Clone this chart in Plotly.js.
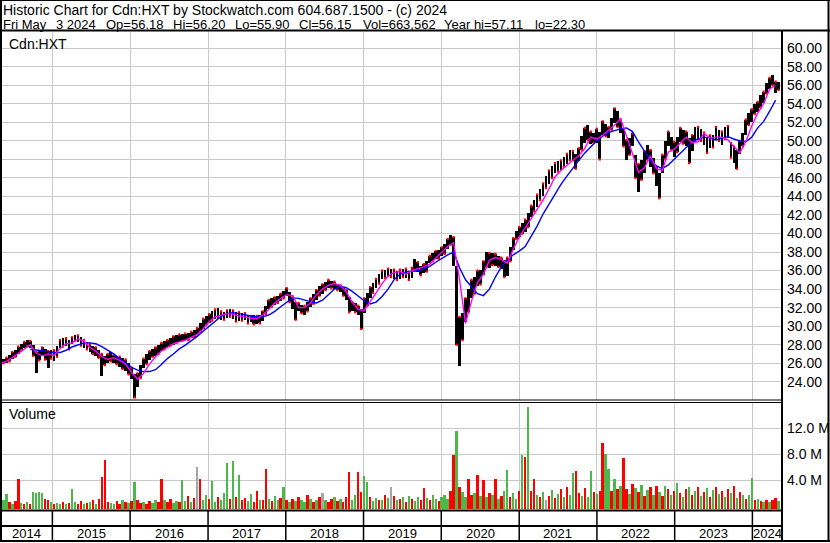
<!DOCTYPE html>
<html><head><meta charset="utf-8">
<script src="https://cdn.plot.ly/plotly-3.0.1.min.js"></script>
<style>html,body{margin:0;padding:0;background:#fff}#chart{width:830px;height:543px}</style>
</head><body><div id="chart"></div>
<script>
// ---------- data ----------
const SERIES_START = '2014-05-02';   // first sample, samples every 14 days
const SAMPLE_DAYS = 14;
const HIGH = [
26.4,26.5,26.6,26.9,27.2,27.4,27.8,28.1,28.3,28.5,
28.4,28.0,27.2,27.4,27.7,27.5,27.3,27.4,27.4,27.9,
28.5,28.7,28.7,28.5,28.8,29.1,29.0,28.8,28.5,28.3,
28.1,27.9,27.7,27.4,27.0,26.8,27.0,27.2,26.9,26.8,
26.7,26.6,26.4,26.0,25.5,24.8,24.9,25.8,26.5,27.0,
27.3,27.5,27.7,28.0,28.2,28.4,28.5,28.7,28.9,29.0,
29.1,29.2,29.2,29.3,29.4,29.6,29.8,30.3,30.8,31.1,
31.3,31.6,31.8,32.0,31.6,31.5,31.7,31.8,31.7,31.5,
31.5,31.4,31.4,31.2,31.1,31.2,31.1,31.2,31.6,32.2,
32.8,33.0,33.1,33.3,33.5,33.8,34.1,33.7,33.2,32.6,
32.5,32.3,32.2,32.6,33.0,33.5,33.9,34.3,34.5,34.8,
35.0,34.9,34.8,34.6,34.4,34.2,33.9,33.2,32.6,32.5,
32.2,31.9,33.0,33.6,34.2,34.7,35.1,35.6,36.0,36.1,
36.2,36.2,36.1,36.0,36.1,36.2,36.2,36.0,36.3,37.3,
36.9,36.5,36.7,37.0,37.6,37.9,38.1,38.2,38.5,38.9,
39.4,39.8,39.6,36.5,31.0,31.4,33.0,34.0,35.0,35.3,
36.0,36.1,37.0,38.0,37.9,37.9,37.8,37.6,37.4,37.1,
37.4,38.5,39.5,40.3,40.7,41.1,41.5,42.2,43.0,43.6,
44.2,44.8,45.4,46.2,46.8,47.3,47.6,47.8,47.9,48.3,
48.6,49.0,48.9,48.6,49.2,50.5,51.4,51.7,51.0,50.9,
51.3,51.0,52.1,51.8,51.5,52.5,53.5,53.2,52.3,51.3,
50.1,50.3,50.8,48.5,47.5,47.9,48.9,49.6,49.0,48.2,
47.2,46.5,48.5,50.0,51.0,50.4,49.9,50.4,51.4,51.2,
51.0,50.3,50.6,51.5,51.5,51.3,50.9,50.3,50.6,50.6,
51.5,51.2,51.0,51.5,51.6,49.9,49.4,49.0,50.0,50.8,
52.3,53.0,53.4,54.0,54.2,54.9,55.3,56.2,56.8,57.1,
56.4,56.3];
const LOW = [
25.9,26.0,26.0,26.2,26.5,26.7,27.0,27.4,27.6,27.8,
27.6,26.8,24.9,26.3,26.8,26.4,25.5,26.5,26.2,26.7,
27.6,27.8,27.9,27.5,28.1,28.4,28.3,27.9,27.6,27.5,
27.2,27.0,26.8,26.6,24.6,25.8,26.0,26.2,26.0,25.9,
25.6,25.4,25.2,24.8,24.3,22.3,23.4,24.4,25.5,25.9,
26.3,26.7,26.8,27.0,27.3,27.5,27.7,27.9,28.0,28.2,
28.3,28.4,28.5,28.5,28.7,28.8,29.0,29.4,29.7,30.1,
30.3,30.6,30.8,30.9,30.7,30.7,30.9,31.0,30.8,30.5,
30.6,30.6,30.7,30.3,30.4,30.2,30.2,30.3,30.6,31.3,
31.9,32.1,32.3,32.5,32.7,33.0,33.3,32.6,31.9,30.7,
31.6,31.4,31.2,31.6,32.1,32.4,32.8,33.3,33.5,33.9,
34.1,34.1,34.0,33.9,33.7,33.3,32.8,31.5,31.6,31.5,
31.2,29.7,31.4,32.2,33.0,33.6,34.1,34.6,35.1,35.2,
35.3,35.3,35.1,35.0,35.1,35.3,35.2,35.0,35.2,36.0,
35.8,35.5,35.7,35.9,36.8,37.0,37.2,37.3,37.6,37.8,
38.3,38.8,36.5,28.0,25.7,28.5,30.5,31.5,33.0,33.5,
34.3,34.5,35.5,36.4,36.3,36.6,36.5,36.4,36.2,35.3,
35.4,37.0,38.2,39.4,39.6,40.0,40.2,40.7,41.8,42.4,
42.9,43.6,44.0,44.9,45.3,46.0,46.5,46.7,46.9,47.2,
47.5,47.9,47.8,47.0,47.8,49.0,49.8,50.1,49.7,49.8,
49.8,48.0,50.6,50.5,50.3,51.2,51.9,51.5,50.8,49.4,
47.9,48.5,49.4,46.0,44.5,45.8,46.5,47.9,47.2,46.5,
45.1,43.8,46.5,48.0,49.4,49.0,48.3,48.8,49.9,49.7,
49.4,47.6,48.9,49.9,50.1,50.0,49.6,48.7,49.2,49.3,
50.1,50.0,49.6,50.2,50.3,48.2,47.6,47.0,48.6,49.4,
50.6,51.7,52.0,52.9,53.1,53.6,54.1,55.1,55.6,56.0,
55.2,55.5];
// moving averages, one value every 28 days from SERIES_START
const MA_DAYS = 28;
const MA_SHORT = [
26.0,26.2,26.6,27.1,27.6,28.0,27.1,26.8,27.0,26.8,
27.6,28.1,28.2,28.6,28.4,27.7,27.3,26.7,26.4,26.6,
26.3,25.9,25.0,24.3,24.9,25.9,26.7,27.3,27.7,28.1,
28.3,28.5,28.8,29.1,29.7,30.5,31.0,31.2,31.35,31.3,
31.1,31.0,30.85,30.8,31.2,31.8,32.5,33.0,33.4,33.3,
32.0,32.0,32.5,33.4,34.0,34.4,34.6,34.4,33.7,32.6,
31.8,31.7,32.6,33.6,34.6,35.4,35.8,35.9,35.6,36.0,
36.2,36.4,36.7,37.3,38.0,38.6,39.0,35.0,30.3,32.7,
34.7,35.6,37.1,37.4,37.2,36.8,38.3,39.6,40.6,41.6,
42.6,43.6,44.8,46.1,46.8,47.4,47.9,48.4,49.2,50.4,
50.2,50.6,51.1,51.7,52.4,50.6,48.6,46.6,47.1,48.4,
47.0,46.8,48.8,49.1,49.7,50.4,49.8,49.9,50.8,50.3,
50.4,50.4,50.1,49.4,48.7,49.9,51.6,53.0,54.0,55.6,
56.0];
const MA_LONG = [
null,null,null,null,null,27.5,27.45,27.35,27.25,27.15,
27.15,27.4,27.75,28.0,28.2,28.2,28.1,27.8,27.4,27.0,
26.5,26.0,25.55,25.25,25.1,25.1,25.3,25.85,26.5,27.0,
27.55,27.95,28.4,28.9,29.45,30.0,30.55,31.05,31.35,31.45,
31.35,31.2,31.1,31.0,31.0,31.2,31.6,32.1,32.6,33.05,
33.0,32.8,32.65,32.5,32.8,33.4,34.0,34.3,34.15,33.75,
33.2,32.75,32.4,32.6,33.2,34.0,35.0,35.6,35.85,35.9,
36.0,36.15,36.45,36.9,37.3,37.7,38.0,36.3,35.0,34.3,
33.5,33.3,34.0,35.3,36.4,37.1,37.7,38.1,38.6,39.7,
40.8,42.1,43.2,44.3,45.3,46.2,47.1,47.9,48.7,49.4,
50.0,50.5,50.9,51.1,51.3,51.4,51.0,49.9,48.9,47.9,
47.3,47.0,47.4,48.0,48.7,49.3,49.9,50.2,50.4,50.3,
50.1,50.3,50.45,50.2,50.0,49.9,50.4,51.4,52.1,53.2,
54.4];
// volume in millions per 14-day sample, and its colour code (r=down, g=up, x=unchanged)
const VOLUME_M = [
1.3,1.0,1.9,0.6,0.4,0.8,4.2,0.5,0.3,0.6,
0.4,2.2,2.1,2.2,2.0,1.1,0.9,0.6,0.3,0.5,
0.4,0.7,0.3,0.5,2.7,0.6,0.4,0.8,0.3,0.5,
0.6,1.0,0.4,1.1,4.5,7.1,0.7,0.5,0.3,0.8,
0.4,0.9,0.6,0.5,0.8,3.8,0.9,0.5,0.6,0.4,
0.8,0.5,0.9,0.6,4.2,0.9,0.7,1.1,0.5,0.8,
0.6,4.0,0.8,1.6,0.7,1.3,6.0,4.2,0.9,1.8,
1.2,3.9,0.6,1.4,0.9,2.0,6.7,1.1,7.0,1.4,
4.8,1.0,1.3,0.8,1.9,0.7,2.3,1.0,0.9,5.7,
1.1,0.8,1.6,0.9,1.3,3.0,1.0,0.6,1.2,0.8,
1.4,0.9,0.7,1.7,1.2,0.6,1.0,1.5,2.0,0.9,
0.7,1.2,1.4,0.8,1.1,0.6,1.5,5.3,1.0,1.8,
5.3,2.2,4.7,3.7,1.5,0.8,1.3,1.0,0.9,1.8,
1.3,2.9,1.6,0.9,1.1,1.4,0.7,1.6,1.2,0.8,
1.5,1.0,2.8,1.3,0.9,1.7,1.2,0.8,1.4,1.8,
1.2,2.4,7.9,11.6,3.0,2.2,1.5,4.2,1.8,2.1,
4.8,1.6,4.0,1.4,2.0,1.8,4.2,1.2,1.6,2.3,
5.6,1.5,2.0,1.1,2.3,7.9,7.6,15.3,2.4,4.2,
1.8,1.4,2.2,1.0,1.6,2.5,1.3,1.9,2.6,1.5,
2.9,1.8,5.2,5.4,2.0,1.6,2.8,1.4,5.4,2.2,
1.9,2.4,9.7,8.0,5.7,2.3,4.2,2.7,3.1,7.4,
2.6,1.9,3.4,2.8,2.2,3.3,1.6,2.5,2.9,1.8,
3.2,2.2,1.6,3.1,2.7,1.8,2.4,3.6,2.0,1.5,
2.6,3.0,1.7,2.3,2.9,1.6,2.2,2.8,1.4,2.5,
3.0,1.9,2.4,1.5,2.6,2.0,3.1,1.3,2.2,1.7,
1.2,1.8,4.3,0.9,1.1,0.8,0.6,1.0,0.7,0.9,
1.3,0.8];
const VOLUME_DIR =
"rggrgrrgrg"+"rggggrrgrg"+"grgrggrrgr"+"grgrrrrggr"+"rgrgrgrrgr"+
"rggrrgrrgg"+"rggrgrxrgg"+"rggrgggrgr"+"grrggrrgrr"+"grggrgrgrg"+
"rggrgrgrxg"+"rrgrgrrrgg"+"rrggrggrgr"+"gxrgrgrgrg"+"grrgrggrgg"+
"grrgrggrrg"+"rgrgrgrgrg"+"grggrgrgrr"+"grgxrgrgrg"+"rggrrgrggr"+
"grrggrgrgr"+"rgrgrgrgrg"+"rgrgrgrgrg"+"rgrgrgrgrg"+"rgrgrgrgrg"+
"rggrgrgrgr"+"rg";
const PRICE_TICKS = [24,26,28,30,32,34,36,38,40,42,44,46,48,50,52,54,56,58,60];
const VOL_TICKS_M = [4,8,12];
const YEARS = [2014,2015,2016,2017,2018,2019,2020,2021,2022,2023,2024];
const HEADER_1 = "Historic Chart for Cdn:HXT by Stockwatch.com 604.687.1500 - (c) 2024";
// second header line: its fields, shown with wide gaps between them
const HEADER_2 = ["Fri May", "3 2024", "Op=56.18", "Hi=56.20", "Lo=55.90", "Cl=56.15",
                  "Vol=663,562", "Year hi=57.11", "lo=22.30"];
const HEADER_2_X = [2, 55, 105, 172, 234, 298, 362, 443, 534];   // left pixel of each field
const SYMBOL = "Cdn:HXT";

// ---------- build ----------
const DAY = 86400000;
const t0 = Date.parse(SERIES_START + 'T00:00:00Z');
const iso = ms => new Date(ms).toISOString().slice(0, 10);
const dates = HIGH.map((_, i) => iso(t0 + i * SAMPLE_DAYS * DAY));
const maDates = MA_SHORT.map((_, k) => iso(t0 + k * MA_DAYS * DAY));

const W = 830, H = 543;
const PX = x => x / W, PY = y => 1 - y / H;
const X_RANGE = ['2014-04-30', '2024-05-19'];
const FONT = 'Liberation Sans, Arial, sans-serif';
const GRID = '#c8c8c8';
const VOL_BASE = -0.46e6;
const COLORS = {r: '#ff0000', g: '#4cb84c', x: '#a6a6a6'};

const traces = [
  {type: 'bar', x: dates, y: HIGH.map((h, i) => h - LOW[i]), base: LOW,
   width: SAMPLE_DAYS * DAY * 0.92, marker: {color: '#000', line: {width: 0}},
   xaxis: 'x', yaxis: 'y', hoverinfo: 'skip'},
  // red close ticks at the bar ends
  {type: 'scatter', mode: 'markers', x: dates,
   y: HIGH.map((h, i) => (i % 2 ? LOW[i] : h)),
   marker: {symbol: 'square', size: 2.3, color: '#ff0000', line: {width: 0}},
   xaxis: 'x', yaxis: 'y', hoverinfo: 'skip'},
  {type: 'scatter', mode: 'lines', x: maDates, y: MA_LONG, line: {color: '#0000ff', width: 1.4},
   xaxis: 'x', yaxis: 'y', hoverinfo: 'skip', connectgaps: false},
  {type: 'scatter', mode: 'lines', x: maDates, y: MA_SHORT, line: {color: '#ff00ff', width: 1.4},
   xaxis: 'x', yaxis: 'y', hoverinfo: 'skip'},
  {type: 'bar', x: dates, y: VOLUME_M.map(v => v * 1e6 - VOL_BASE), base: VOL_BASE,
   width: SAMPLE_DAYS * DAY * 0.8,
   marker: {color: VOLUME_M.map((_, i) => COLORS[VOLUME_DIR[i]]), line: {width: 0}},
   xaxis: 'x2', yaxis: 'y2', hoverinfo: 'skip'}
];

const yearStarts = YEARS.slice(1).map(y => y + '-01-01');
const xCommon = {type: 'date', range: X_RANGE, domain: [0, PX(782)], tickvals: yearStarts,
  showticklabels: false, ticks: '', showgrid: true, gridcolor: GRID, gridwidth: 1,
  zeroline: false, showline: false};

const shapes = [];
const line = (x0, y0, x1, y1, w) => shapes.push({type: 'line', xref: 'paper', yref: 'paper',
  x0: PX(x0), y0: PY(y0), x1: PX(x1), y1: PY(y1), line: {color: '#000', width: w}});
line(1, 0, 1, 542, 2);        // left border
line(0, 0.5, 830, 0.5, 1);    // top border
line(828.5, 0, 828.5, 542, 2);// right border
line(0, 541, 830, 541, 2);    // bottom border
line(0, 30.5, 830, 30.5, 2);  // header bottom
line(0, 400, 782, 400, 1.2);  // double line between panels
line(0, 402.5, 782, 402.5, 1.2);
line(0, 510.5, 782, 510.5, 2);// volume bottom
line(0, 526, 782, 526, 2);    // row separator
line(782, 31, 782, 541, 2);   // axis column
yearStarts.forEach(d => shapes.push({type: 'line', xref: 'x', yref: 'paper', x0: d, x1: d,
  y0: PY(511), y1: PY(541), line: {color: '#000', width: 1.5}}));

const txt = (text, x, y, size) => ({text: text, x: PX(x), y: PY(y), xref: 'paper', yref: 'paper',
  xanchor: 'left', yanchor: 'top', showarrow: false, borderpad: 0,
  font: {family: FONT, size: size, color: '#000'}});
const annotations = [txt(HEADER_1, 2, 0.5, 14)];
HEADER_2.forEach((s, i) => annotations.push(txt(s, HEADER_2_X[i], 16, 13)));
annotations.push(txt(SYMBOL, 8, 35, 14));
annotations.push(txt('Volume', 8, 405, 14));
const r0 = Date.parse(X_RANGE[0] + 'T00:00:00Z'), r1 = Date.parse(X_RANGE[1] + 'T00:00:00Z');
YEARS.forEach(y => {
  const a = Math.max(Date.parse(y + '-01-01T00:00:00Z'), r0);
  const b = Math.min(Date.parse((y + 1) + '-01-01T00:00:00Z'), r1);
  annotations.push({text: String(y), x: iso((a + b) / 2), y: PY(533.5), xref: 'x', yref: 'paper',
    xanchor: 'center', yanchor: 'middle', showarrow: false, borderpad: 0,
    font: {family: FONT, size: 13, color: '#000'}});
});

const layout = {
  width: W, height: H, margin: {l: 0, r: 0, t: 0, b: 0},
  paper_bgcolor: '#fff', plot_bgcolor: '#fff', showlegend: false, bargap: 0,
  xaxis: Object.assign({anchor: 'y'}, xCommon),
  xaxis2: Object.assign({anchor: 'y2', matches: 'x'}, xCommon),
  yaxis: {domain: [PY(400), PY(32)], range: [22.03, 61.75], side: 'right', anchor: 'x',
    tickvals: PRICE_TICKS, ticktext: PRICE_TICKS.map(v => v.toFixed(2)), ticks: '',
    showgrid: true, gridcolor: GRID, gridwidth: 1, zeroline: false, showline: false,
    ticklabelstandoff: 4, tickfont: {family: FONT, size: 14, color: '#000'}},
  yaxis2: {domain: [PY(509.3), PY(403)], range: [VOL_BASE, 15.89e6], side: 'right', anchor: 'x2',
    tickvals: VOL_TICKS_M.map(v => v * 1e6), ticktext: VOL_TICKS_M.map(v => v.toFixed(1) + ' M'),
    ticks: '', showgrid: true, gridcolor: GRID, gridwidth: 1, zeroline: false, showline: false,
    ticklabelstandoff: 4, tickfont: {family: FONT, size: 14, color: '#000'}},
  shapes: shapes, annotations: annotations
};
Plotly.newPlot('chart', traces, layout, {staticPlot: true, displayModeBar: false});
</script></body></html>
